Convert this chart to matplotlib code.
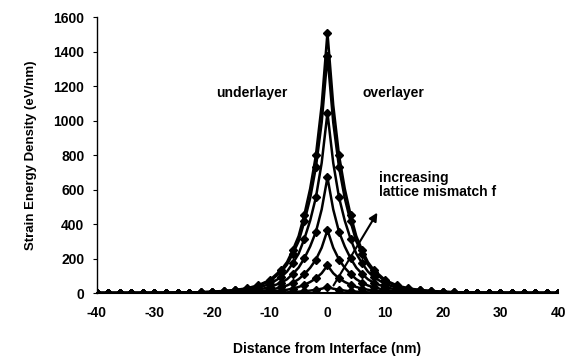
import matplotlib
matplotlib.use("Agg")
import matplotlib.pyplot as plt
import numpy as np

plt.rcParams['font.family'] = ['Liberation Sans', 'DejaVu Sans']
plt.rcParams['axes.unicode_minus'] = False

# distance from interface (one side, nm); curves are symmetric about 0
dist = [0, 1, 2, 3, 4, 5, 6, 7, 8, 10, 12, 14, 16, 18, 20, 22, 24, 26, 28, 30, 32, 34, 36, 38, 40]

# strain energy density (eV/nm) for each lattice mismatch
curve_a = [1510, 1090, 800, 605, 455, 330, 250, 180, 135, 75, 45, 27, 18, 12, 8, 5, 3, 2, 1, 1, 0.5, 0.5, 0, 0, 0]
curve_b = [1375, 990, 730, 550, 415, 300, 228, 165, 123, 68, 41, 25, 16, 11, 7, 4, 3, 2, 1, 1, 0.5, 0, 0, 0, 0]
curve_c = [1045, 755, 555, 420, 315, 228, 173, 125, 93, 52, 31, 19, 12, 8, 5, 3, 2, 1, 1, 0.5, 0, 0, 0, 0, 0]
curve_d = [670, 485, 355, 270, 202, 147, 111, 80, 60, 34, 20, 12, 8, 5, 3, 2, 1, 1, 0.5, 0, 0, 0, 0, 0, 0]
curve_e = [365, 263, 194, 146, 110, 80, 60, 44, 33, 18, 11, 7, 4, 3, 2, 1, 1, 0.5, 0, 0, 0, 0, 0, 0, 0]
curve_f = [160, 115, 85, 64, 48, 35, 26, 19, 14, 8, 5, 3, 2, 1, 1, 0.5, 0, 0, 0, 0, 0, 0, 0, 0, 0]
curve_g = [35, 25, 19, 14, 10, 8, 6, 4, 3, 2, 1, 1, 0.5, 0, 0, 0, 0, 0, 0, 0, 0, 0, 0, 0, 0]

curves = [curve_a, curve_b, curve_c, curve_d, curve_e, curve_f, curve_g]

x_ticks = [-40, -30, -20, -10, 0, 10, 20, 30, 40]
y_ticks = [0, 200, 400, 600, 800, 1000, 1200, 1400, 1600]


def mirror(d, v):
    x = [-a for a in d[::-1]] + d[1:]
    y = v[::-1] + v[1:]
    return x, y


fig = plt.figure(figsize=(5.76, 3.64), dpi=100)
ax = fig.add_axes([0.168, 0.195, 0.801, 0.758])

for c in curves:
    x, y = mirror(dist, c)
    marks = [i for i, xv in enumerate(x) if xv % 2 == 0]
    ax.plot(x, y, color='black', lw=1.8, marker='D', ms=3.6, mfc='black', mec='black',
            markevery=marks)

ax.set_xlim(-40, 40)
ax.set_ylim(0, 1600)
ax.set_xticks(x_ticks)
ax.set_yticks(y_ticks)
ax.spines['top'].set_visible(False)
ax.spines['right'].set_visible(False)
ax.spines['left'].set_linewidth(1.0)
ax.spines['bottom'].set_linewidth(1.5)
ax.tick_params(axis='x', length=0, pad=9, labelsize=10)
ax.tick_params(axis='y', length=3, width=0.8, direction='out', pad=6, labelsize=10)
for lab in ax.get_xticklabels() + ax.get_yticklabels():
    lab.set_fontweight('bold')

ax.set_xlabel('Distance from Interface (nm)', fontsize=10, fontweight='bold', labelpad=16)
ax.set_ylabel('Strain Energy Density (eV/nm)', fontsize=9.5, fontweight='bold', labelpad=12)

ax.text(-13.2, 1160, 'underlayer', ha='center', va='center', fontsize=10, fontweight='bold')
ax.text(11.5, 1160, 'overlayer', ha='center', va='center', fontsize=10, fontweight='bold')
ax.text(8.9, 710, 'increasing\nlattice mismatch f', ha='left', va='top', fontsize=10,
        fontweight='bold', linespacing=1.0)
ax.annotate('', xy=(8.9, 480), xytext=(0.8, 30),
            arrowprops=dict(arrowstyle='-|>', color='black', lw=1.5, mutation_scale=12))

fig.savefig('out.png', dpi=100)
